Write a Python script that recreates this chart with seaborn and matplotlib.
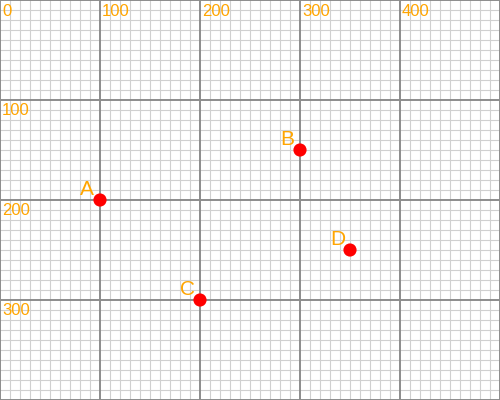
import matplotlib
matplotlib.use("Agg")
import matplotlib.pyplot as plt
import seaborn as sns
import pandas as pd

# point data (canvas pixel coords)
names = ["A", "B", "C", "D"]
xs = [100, 300, 200, 350]
ys = [200, 150, 300, 250]

x_labels = [0, 100, 200, 300, 400]
y_labels = [100, 200, 300]

sns.set_theme(style="white")
plt.rcParams["font.family"] = ["Liberation Sans", "DejaVu Sans"]

fig = plt.figure(figsize=(5, 4), dpi=100)
ax = fig.add_axes([0, 0, 1, 1])
ax.set_xlim(0, 500)
ax.set_ylim(400, 0)

# grid lines
for v in range(0, 501, 10):
    major = v % 100 == 0
    ax.axvline(v, color="#8c8c8c" if major else "#d0d0d0", lw=1.4 if major else 0.8, zorder=1 if major else 0)
for v in range(0, 401, 10):
    major = v % 100 == 0
    ax.axhline(v, color="#8c8c8c" if major else "#d0d0d0", lw=1.4 if major else 0.8, zorder=1 if major else 0)

for v in x_labels:
    ax.text(v + 2, 16, str(v), color="orange", fontsize=12, ha="left", va="baseline", zorder=3)
for v in y_labels:
    ax.text(2, v + 15, str(v), color="orange", fontsize=12, ha="left", va="baseline", zorder=3)

df = pd.DataFrame({"x": xs, "y": ys, "name": names})
sns.scatterplot(data=df, x="x", y="y", color="red", s=90, edgecolor="none", ax=ax, zorder=4)
for n, x, y in zip(names, xs, ys):
    ax.text(x - 20, y - 5, n, color="orange", fontsize=15, ha="left", va="baseline", zorder=5)

ax.set_xticks([])
ax.set_yticks([])
ax.set_xlabel("")
ax.set_ylabel("")
for s in ax.spines.values():
    s.set_visible(False)

fig.savefig("out.png", dpi=100)
